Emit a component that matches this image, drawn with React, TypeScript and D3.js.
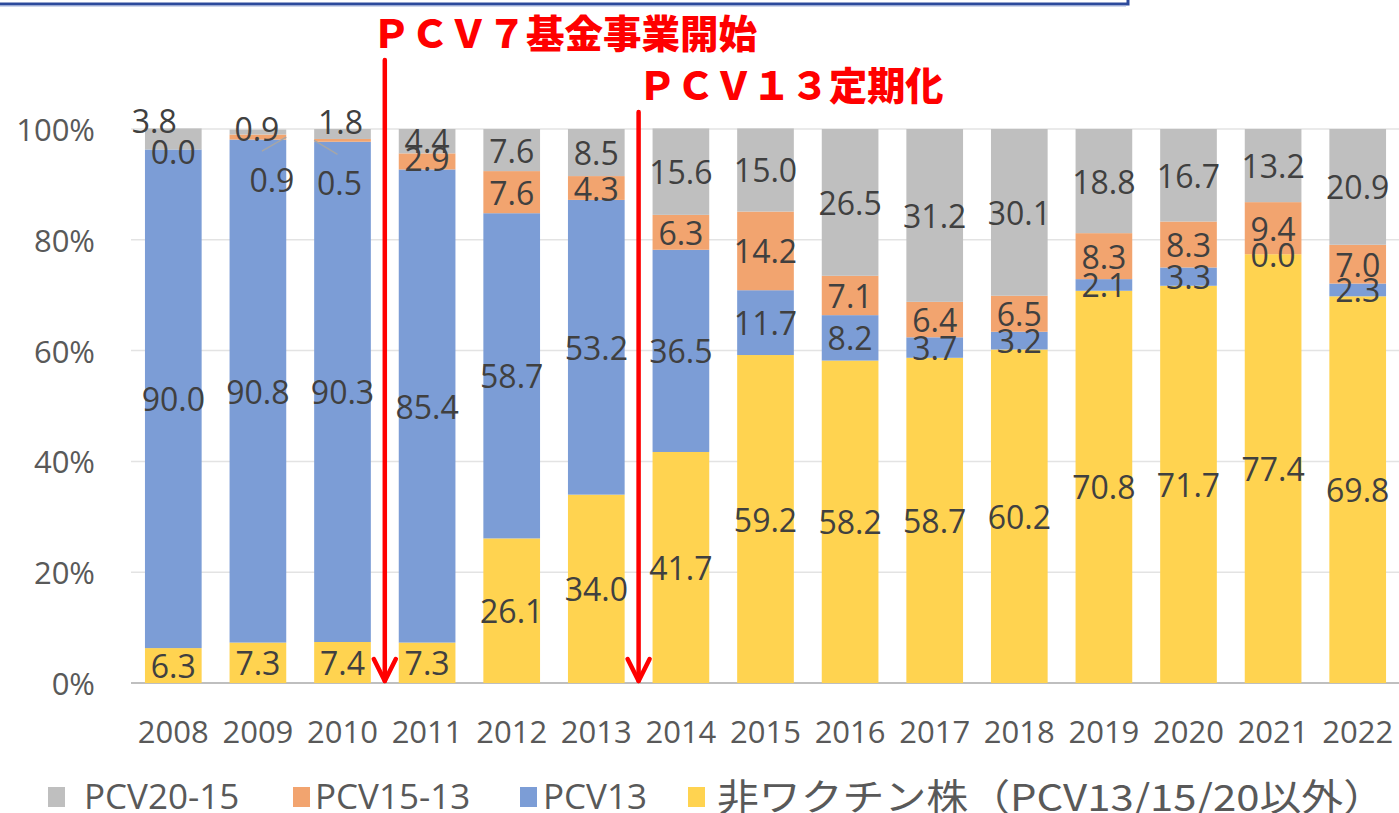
import React from "react";
import * as d3 from "d3";

const years = ["2008","2009","2010","2011","2012","2013","2014","2015","2016","2017","2018","2019","2020","2021","2022"];
const nonVaccine = [6.3, 7.3, 7.4, 7.3, 26.1, 34.0, 41.7, 59.2, 58.2, 58.7, 60.2, 70.8, 71.7, 77.4, 69.8];
const pcv13 = [90.0, 90.8, 90.3, 85.4, 58.7, 53.2, 36.5, 11.7, 8.2, 3.7, 3.2, 2.1, 3.3, 0.0, 2.3];
const pcv15_13 = [0.0, 0.9, 0.5, 2.9, 7.6, 4.3, 6.3, 14.2, 7.1, 6.4, 6.5, 8.3, 8.3, 9.4, 7.0];
const pcv20_15 = [3.8, 0.9, 1.8, 4.4, 7.6, 8.5, 15.6, 15.0, 26.5, 31.2, 30.1, 18.8, 16.7, 13.2, 20.9];
const yTicks = [0, 20, 40, 60, 80, 100];

const seriesNames = ["PCV20-15", "PCV15-13", "PCV13", "非ワクチン株（PCV13/15/20以外）"];
const annotation1 = "ＰＣＶ７基金事業開始";
const annotation2 = "ＰＣＶ１３定期化";
const eventBetween = [["2010", "2011"], ["2013", "2014"]];

const COLORS: Record<string, string> = {
  nonVaccine: "#FFD350",
  pcv13: "#7C9DD6",
  pcv15_13: "#F2A46F",
  pcv20_15: "#BFBFBF",
};

// manual label nudges (like in the original chart)
const labelAdjust: Record<string, { dx: number; dy: number; leader?: [number, number] }> = {
  "2008-pcv20_15": { dx: -19, dy: -18 },
  "2008-pcv15_13": { dx: 0, dy: 2 },
  "2009-pcv20_15": { dx: -1, dy: -4 },
  "2009-pcv15_13": { dx: 14, dy: 42, leader: [28, 0] },
  "2010-pcv20_15": { dx: -2, dy: -12 },
  "2010-pcv15_13": { dx: -3, dy: 42, leader: [-28, 0] },
  "2011-pcv20_15": { dx: 0, dy: -1 },
  "2011-pcv15_13": { dx: 0, dy: -3 },
};

export default function App() {
  const W = 1399, H = 813;
  const x = d3.scaleBand<string>().domain(years).range([131, 1400]).paddingInner(0.33).paddingOuter(0.165);
  const y = d3.scaleLinear().domain([0, 100]).range([683, 129]);

  const keys = ["nonVaccine", "pcv13", "pcv15_13", "pcv20_15"];
  const table = years.map((yr, i) => ({
    year: yr,
    nonVaccine: nonVaccine[i],
    pcv13: pcv13[i],
    pcv15_13: pcv15_13[i],
    pcv20_15: pcv20_15[i],
  }));
  const stacked = d3.stack<any>().keys(keys)(table);

  const numFont = "'Open Sans', sans-serif";

  const arrowX = eventBetween.map(([a, b]) => ((x(a)! + x.bandwidth()) + x(b)!) / 2);
  const arrowTop = [60, 112];

  const legendItems = [
    { key: "pcv20_15", name: seriesNames[0], sx: 48, tx: 84 },
    { key: "pcv15_13", name: seriesNames[1], sx: 293, tx: 315 },
    { key: "pcv13", name: seriesNames[2], sx: 520, tx: 543 },
    { key: "nonVaccine", name: seriesNames[3], sx: 688, tx: 717 },
  ];

  return (
    <svg width={W} height={H} style={{ position: "absolute", left: 0, top: 0, background: "#fff" }}>
      {/* top box edge */}
      <rect x={-10} y={-30} width={1138} height={34} fill="none" stroke="#2C4A9C" strokeWidth={3} />
      <line x1={0} x2={1126} y1={6} y2={6} stroke="#9FB0DA" strokeWidth={1} />

      {/* gridlines */}
      {yTicks.map((t) => (
        <line key={t} x1={131} x2={1399} y1={y(t)} y2={y(t)} stroke={t === 0 ? "#BFBFBF" : "#E3E3E3"} strokeWidth={t === 0 ? 2 : 1.5} />
      ))}
      {yTicks.map((t) => (
        <text key={"yt" + t} x={95} y={y(t)} textAnchor="end" dominantBaseline="central" fontFamily={numFont} fontSize={31} fill="#595959">
          {t + "%"}
        </text>
      ))}

      {/* bars */}
      {stacked.map((s) => (
        <g key={s.key} fill={COLORS[s.key]}>
          {s.map((d, i) => (
            <rect key={i} x={x(years[i])} width={x.bandwidth()} y={y(d[1])} height={Math.max(0, y(d[0]) - y(d[1]))} />
          ))}
        </g>
      ))}

      {/* x axis labels */}
      {years.map((yr) => (
        <text key={yr} x={x(yr)! + x.bandwidth() / 2} y={731} textAnchor="middle" dominantBaseline="central" fontFamily={numFont} fontSize={31} fill="#595959">
          {yr}
        </text>
      ))}

      {/* data labels */}
      {stacked.map((s) =>
        s.map((d, i) => {
          const yr = years[i];
          const adj = labelAdjust[yr + "-" + s.key] || { dx: 0, dy: 0 };
          const cx = x(yr)! + x.bandwidth() / 2 + adj.dx;
          const cy = (y(d[0]) + y(d[1])) / 2 + adj.dy;
          const v = (d[1] - d[0]).toFixed(1);
          return (
            <g key={s.key + i}>
              {adj.leader && (
                <line
                  x1={adj.leader[0] > 0 ? cx - 10 : cx - 2}
                  y1={cy - 28}
                  x2={adj.leader[0] > 0 ? x(yr)! + x.bandwidth() : x(yr)!}
                  y2={(y(d[0]) + y(d[1])) / 2}
                  stroke="#A6A6A6"
                  strokeWidth={1.5}
                />
              )}
              <text x={cx} y={cy} textAnchor="middle" dominantBaseline="central" fontFamily={numFont} fontSize={32} fill="#404040">
                {v}
              </text>
            </g>
          );
        })
      )}

      {/* arrows */}
      {arrowX.map((ax, i) => (
        <g key={"ar" + i} stroke="#FF0000" strokeWidth={4.5} fill="none" strokeLinecap="round">
          <line x1={ax} x2={ax} y1={arrowTop[i]} y2={y(0) - 2} />
          <polyline points={`${ax - 11},${y(0) - 24} ${ax},${y(0) - 2} ${ax + 11},${y(0) - 24}`} strokeLinejoin="round" />
        </g>
      ))}
      <text x={372} y={31} dominantBaseline="central" fontFamily="'Noto Sans CJK JP', sans-serif" fontWeight={900} fontSize={38.5} fill="#FF0000">
        {annotation1}
      </text>
      <text x={638} y={83} dominantBaseline="central" fontFamily="'Noto Sans CJK JP', sans-serif" fontWeight={900} fontSize={38.2} fill="#FF0000">
        {annotation2}
      </text>

      {/* legend */}
      {legendItems.map((it, i) => (
        <g key={it.key}>
          <rect x={it.sx} y={787} width={17} height={20} fill={COLORS[it.key]} />
          {i < 3 ? (
            <text x={it.tx} y={795} dominantBaseline="central" fontFamily={numFont} fontSize={35} fill="#595959">
              {it.name}
            </text>
          ) : (
            <text x={it.tx} y={795} dominantBaseline="central" fontFamily="'Noto Sans CJK JP', sans-serif" fontSize={37} fill="#595959" textLength={668} lengthAdjust="spacingAndGlyphs">
              {it.name}
            </text>
          )}
        </g>
      ))}
    </svg>
  );
}
